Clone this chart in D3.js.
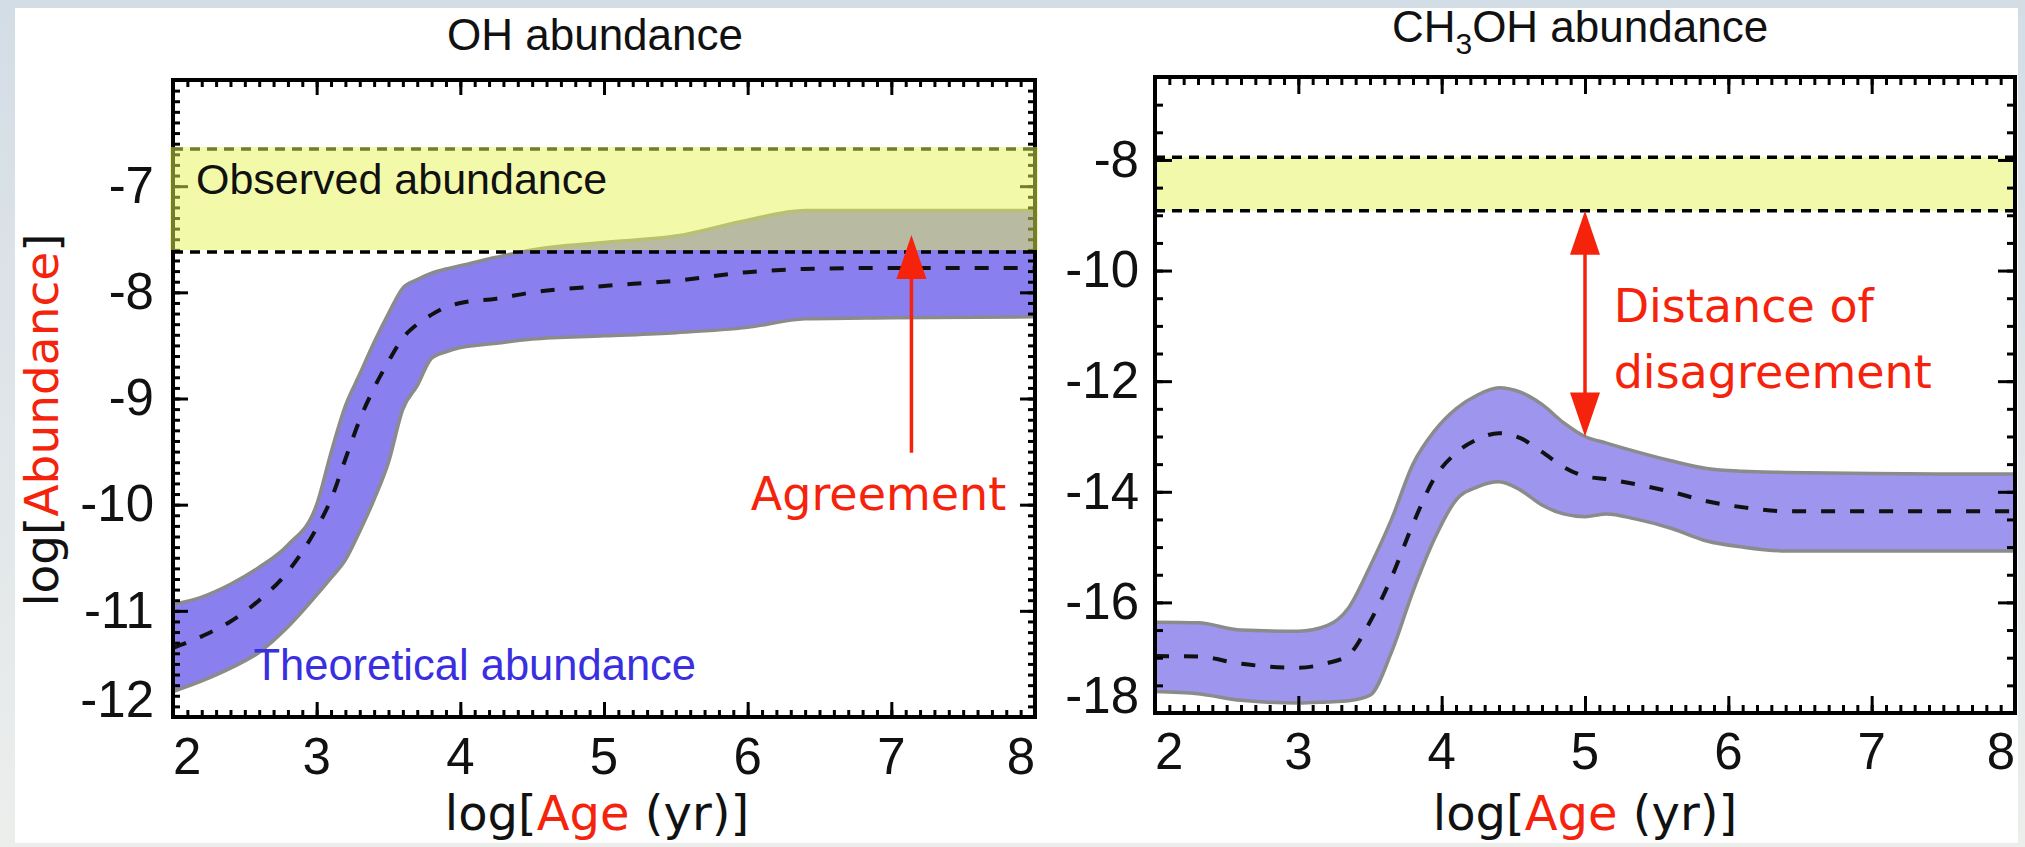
<!DOCTYPE html>
<html>
<head>
<meta charset="utf-8">
<title>OH and CH3OH abundance</title>
<script src="https://cdn.jsdelivr.net/npm/d3@7"></script>
<style>
  body { margin: 0; background: #fff; }
  svg { display: block; }
</style>
</head>
<body>
<script>
// values: log[Age (yr)] against log[Abundance]

// OH panel: theoretical band (upper / lower edge) and its median curve
const ohAge   = [2.0, 2.2, 2.4, 2.6, 2.8, 3.0, 3.1, 3.2, 3.3, 3.4, 3.5, 3.6, 3.7, 3.8, 3.9, 4.0, 4.25, 4.5, 5.0, 5.5, 6.0, 6.4, 7.0, 8.0];
const ohUpper = [-10.94, -10.87, -10.75, -10.59, -10.38, -10.0, -9.51, -9.07, -8.77, -8.47, -8.2, -7.96, -7.88, -7.82, -7.78, -7.75, -7.67, -7.6, -7.53, -7.47, -7.32, -7.23, -7.23, -7.23];
const ohLower = [-11.76, -11.66, -11.54, -11.39, -11.15, -10.85, -10.69, -10.52, -10.25, -9.95, -9.6, -9.1, -8.88, -8.62, -8.56, -8.52, -8.48, -8.44, -8.41, -8.38, -8.33, -8.25, -8.24, -8.23];
const ohMid   = [-11.35, -11.24, -11.1, -10.9, -10.63, -10.22, -9.95, -9.57, -9.2, -8.9, -8.65, -8.43, -8.3, -8.21, -8.14, -8.1, -8.06, -8.0, -7.94, -7.89, -7.81, -7.78, -7.77, -7.77];
const ohObserved = [-7.62, -6.65];

// CH3OH panel
const chAge   = [2.0, 2.3, 2.6, 3.0, 3.2, 3.35, 3.5, 3.65, 3.8, 3.95, 4.1, 4.25, 4.4, 4.55, 4.7, 4.85, 5.0, 5.15, 5.35, 5.6, 5.85, 6.1, 6.4, 7.0, 8.0];
const chUpper = [-16.36, -16.37, -16.5, -16.52, -16.42, -16.1, -15.35, -14.5, -13.5, -12.9, -12.5, -12.25, -12.12, -12.2, -12.42, -12.75, -13.0, -13.12, -13.27, -13.44, -13.58, -13.63, -13.65, -13.67, -13.68];
const chLower = [-17.61, -17.65, -17.77, -17.82, -17.8, -17.78, -17.68, -16.9, -15.8, -14.85, -14.15, -13.91, -13.82, -13.97, -14.24, -14.4, -14.45, -14.4, -14.49, -14.66, -14.89, -15.0, -15.07, -15.07, -15.07];
const chMid   = [-16.97, -16.98, -17.11, -17.18, -17.1, -16.95, -16.35, -15.55, -14.58, -13.75, -13.3, -13.05, -12.94, -13.03, -13.28, -13.55, -13.72, -13.77, -13.86, -14.0, -14.17, -14.28, -14.35, -14.35, -14.35];
const chObserved = [-8.92, -7.95];

// tick labels
const xTickLabels  = [2, 3, 4, 5, 6, 7, 8];
const ohYTickLabels = [-12, -11, -10, -9, -8, -7];
const chYTickLabels = [-18, -16, -14, -12, -10, -8];

// annotation arrows [age, from, to]
const agreeArrow = [7.14, -9.51, -7.46];
const distArrow  = [5.0, -8.92, -13.0];

const W = 2025, H = 847;
const RED = "#f5230c";
const tickFont = "'Liberation Sans', Arial, sans-serif";
const textFont = "'DejaVu Sans', Verdana, sans-serif";

const svg = d3.select("body").append("svg")
    .attr("width", W)
    .attr("height", H);

const defs = svg.append("defs");

// slide background round the white figure
const grad = defs.append("linearGradient")
    .attr("id", "bg").attr("x1", 0).attr("y1", 0).attr("x2", 0).attr("y2", 1);
grad.append("stop").attr("offset", "0%").attr("stop-color", "#d3dde6");
grad.append("stop").attr("offset", "100%").attr("stop-color", "#eceeec");

svg.append("rect").attr("width", W).attr("height", H).attr("fill", "url(#bg)");
svg.append("rect")
    .attr("x", 15).attr("y", 8)
    .attr("width", 2003).attr("height", 835)
    .attr("fill", "#fff");

function drawPanel(p) {
    const x = d3.scaleLinear().domain([2, 8]).range([p.left, p.right]);
    const y = d3.scaleLinear().domain(p.yDomain).range([p.bottom, p.top]);
    const g = svg.append("g");

    defs.append("clipPath").attr("id", "clip-" + p.id)
      .append("rect")
        .attr("x", p.left).attr("y", p.top)
        .attr("width", p.right - p.left).attr("height", p.bottom - p.top);

    const plot = g.append("g").attr("clip-path", "url(#clip-" + p.id + ")");

    // observed range drawn behind the model (right panel)
    if (!p.overlay) {
        plot.append("rect")
            .attr("x", p.left).attr("width", p.right - p.left)
            .attr("y", y(p.observed[1]))
            .attr("height", y(p.observed[0]) - y(p.observed[1]))
            .attr("fill", "#f2f9aa");
    }

    const rows = p.age.map((a, i) => ({a: a, lo: p.lower[i], hi: p.upper[i], mid: p.mid[i]}));

    plot.append("path")
        .datum(rows)
        .attr("fill", p.bandColor)
        .attr("d", d3.area()
            .x(d => x(d.a))
            .y0(d => y(d.lo))
            .y1(d => y(d.hi))
            .curve(d3.curveMonotoneX));

    ["lo", "hi"].forEach(k => {
        plot.append("path")
            .datum(rows)
            .attr("fill", "none")
            .attr("stroke", "#8b8b8b")
            .attr("stroke-width", 3.5)
            .attr("d", d3.line().x(d => x(d.a)).y(d => y(d[k])).curve(d3.curveMonotoneX));
    });

    plot.append("path")
        .datum(rows)
        .attr("fill", "none")
        .attr("stroke", "#111")
        .attr("stroke-width", 4)
        .attr("stroke-dasharray", "14,15")
        .attr("d", d3.line().x(d => x(d.a)).y(d => y(d.mid)).curve(d3.curveMonotoneX));

    // observed limits, dashed
    p.observed.forEach(v => {
        plot.append("line")
            .attr("x1", p.left).attr("x2", p.right)
            .attr("y1", y(v)).attr("y2", y(v))
            .attr("stroke", "#000")
            .attr("stroke-width", 3.5)
            .attr("stroke-dasharray", "10,7");
    });

    // ticks on all four sides, pointing in
    const xMinor = d3.range(2, 8.001, 0.1);
    const yMinor = d3.range(p.yDomain[0], p.yDomain[1] + 0.001, p.yMinorStep);
    const yMajor = d3.range(p.yDomain[0], p.yDomain[1] + 0.001, p.yMajorStep);
    const sides = [
        [d3.axisBottom, x, "translate(0," + p.bottom + ")"],
        [d3.axisTop, x, "translate(0," + p.top + ")"],
        [d3.axisLeft, y, "translate(" + p.left + ",0)"],
        [d3.axisRight, y, "translate(" + p.right + ",0)"]
    ];
    sides.forEach(([axis, scale, tr], i) => {
        const isX = i < 2;
        [[isX ? xMinor : yMinor, p.minorLen], [isX ? xTickLabels : yMajor, p.majorLen]].forEach(([vals, len]) => {
            g.append("g")
                .attr("transform", tr)
                .call(axis(scale).tickValues(vals).tickSize(-len).tickFormat(""))
                .call(a => a.select(".domain").remove())
                .selectAll("line")
                .attr("stroke", "#000")
                .attr("stroke-width", 3);
        });
    });

    g.append("rect")
        .attr("x", p.left).attr("y", p.top)
        .attr("width", p.right - p.left).attr("height", p.bottom - p.top)
        .attr("fill", "none")
        .attr("stroke", "#000")
        .attr("stroke-width", 4);

    // observed range laid over the plot (left panel), lets the band show through
    if (p.overlay) {
        g.append("rect")
            .attr("x", p.left - 3).attr("width", p.right - p.left + 6)
            .attr("y", y(p.observed[1]) - 2)
            .attr("height", y(p.observed[0]) - y(p.observed[1]))
            .attr("fill", "rgb(230,245,89)")
            .attr("fill-opacity", 0.51);
    }

    // tick labels
    g.selectAll(".xlab")
      .data(xTickLabels)
      .join("text")
        .attr("x", d => x(d))
        .attr("y", p.bottom + p.xLabelGap)
        .attr("text-anchor", (d, i) => i === 0 ? "start" : (i === xTickLabels.length - 1 ? "end" : "middle"))
        .attr("font-family", tickFont)
        .attr("font-size", 51)
        .attr("fill", "#111")
        .text(d => d);

    g.selectAll(".ylab")
      .data(p.yLabels)
      .join("text")
        .attr("x", p.left - p.yLabelGap)
        .attr("y", d => y(d))
        .attr("dy", d => d === p.yDomain[0] ? "0" : "0.33em")
        .attr("text-anchor", "end")
        .attr("font-family", tickFont)
        .attr("font-size", 51)
        .attr("fill", "#111")
        .text(d => d);

    // x title
    const xt = g.append("text")
        .attr("x", x(5) + p.xTitleShift)
        .attr("y", 830)
        .attr("text-anchor", "middle")
        .attr("font-family", textFont)
        .attr("font-size", 48)
        .attr("fill", "#111");
    xt.append("tspan").text("log[");
    xt.append("tspan").attr("fill", RED).text("Age");
    xt.append("tspan").text(" (yr)]");

    return {x: x, y: y, g: g};
}

function arrowHead(g, xp, tip, dir) {
    // dir = 1 points up, -1 points down
    const len = 44, half = 15;
    g.append("path")
        .attr("d", "M" + xp + "," + tip +
                   "L" + (xp - half) + "," + (tip + dir * len) +
                   "L" + (xp + half) + "," + (tip + dir * len) + "Z")
        .attr("fill", RED);
}

// ---------- left panel: OH ----------
const oh = drawPanel({
    id: "oh", left: 173, right: 1035, top: 80, bottom: 717,
    yDomain: [-12, -6], yMinorStep: 0.1, yMajorStep: 1,
    minorLen: 7, majorLen: 15,
    age: ohAge, upper: ohUpper, lower: ohLower, mid: ohMid,
    observed: ohObserved, overlay: true,
    bandColor: "#8a7fee",
    yLabels: ohYTickLabels, yLabelGap: 19, xLabelGap: 57, xTitleShift: -7
});

oh.g.append("text")
    .attr("x", oh.x(5) - 9).attr("y", 50)
    .attr("text-anchor", "middle")
    .attr("font-family", tickFont).attr("font-size", 44).attr("fill", "#111")
    .text("OH abundance");

oh.g.append("text")
    .attr("x", oh.x(2.16)).attr("y", oh.y(-7.07))
    .attr("font-family", tickFont).attr("font-size", 43).attr("fill", "#111")
    .text("Observed abundance");

oh.g.append("text")
    .attr("x", oh.x(2.56)).attr("y", oh.y(-11.65))
    .attr("font-family", tickFont).attr("font-size", 43.5).attr("fill", "#3a2fe0")
    .text("Theoretical abundance");

oh.g.append("line")
    .attr("x1", oh.x(agreeArrow[0])).attr("x2", oh.x(agreeArrow[0]))
    .attr("y1", oh.y(agreeArrow[1])).attr("y2", oh.y(agreeArrow[2]) + 40)
    .attr("stroke", RED).attr("stroke-width", 3.5);
arrowHead(oh.g, oh.x(agreeArrow[0]), oh.y(agreeArrow[2]), 1);

oh.g.append("text")
    .attr("x", oh.x(7.8)).attr("y", oh.y(-10.05))
    .attr("text-anchor", "end")
    .attr("font-family", textFont).attr("font-size", 46).attr("fill", RED)
    .text("Agreement");

// y title
const yt = svg.append("text")
    .attr("transform", "translate(58,420) rotate(-90)")
    .attr("text-anchor", "middle")
    .attr("font-family", textFont).attr("font-size", 47).attr("fill", "#111");
yt.append("tspan").text("log[");
yt.append("tspan").attr("fill", RED).text("Abundance");
yt.append("tspan").text("]");

// ---------- right panel: CH3OH ----------
const ch = drawPanel({
    id: "ch", left: 1155, right: 2015, top: 77, bottom: 713,
    yDomain: [-18, -6.5], yMinorStep: 0.5, yMajorStep: 2,
    minorLen: 8, majorLen: 17,
    age: chAge, upper: chUpper, lower: chLower, mid: chMid,
    observed: chObserved, overlay: false,
    bandColor: "#9d95ee",
    yLabels: chYTickLabels, yLabelGap: 16, xLabelGap: 56, xTitleShift: 0
});

const ct = ch.g.append("text")
    .attr("x", ch.x(5) - 5).attr("y", 42)
    .attr("text-anchor", "middle")
    .attr("font-family", tickFont).attr("font-size", 44).attr("fill", "#111");
ct.append("tspan").text("CH");
ct.append("tspan").attr("font-size", 30).attr("dy", 12).text("3");
ct.append("tspan").attr("dy", -12).text("OH abundance");

ch.g.append("line")
    .attr("x1", ch.x(distArrow[0])).attr("x2", ch.x(distArrow[0]))
    .attr("y1", ch.y(distArrow[1]) + 40).attr("y2", ch.y(distArrow[2]) - 40)
    .attr("stroke", RED).attr("stroke-width", 3.5);
arrowHead(ch.g, ch.x(distArrow[0]), ch.y(distArrow[1]), 1);
arrowHead(ch.g, ch.x(distArrow[0]), ch.y(distArrow[2]), -1);

ch.g.append("text")
    .attr("x", ch.x(5.2)).attr("y", ch.y(-10.93))
    .attr("font-family", textFont).attr("font-size", 46).attr("fill", RED)
    .text("Distance of");
ch.g.append("text")
    .attr("x", ch.x(5.2)).attr("y", ch.y(-12.12))
    .attr("font-family", textFont).attr("font-size", 46).attr("fill", RED)
    .text("disagreement");
</script>
</body>
</html>
